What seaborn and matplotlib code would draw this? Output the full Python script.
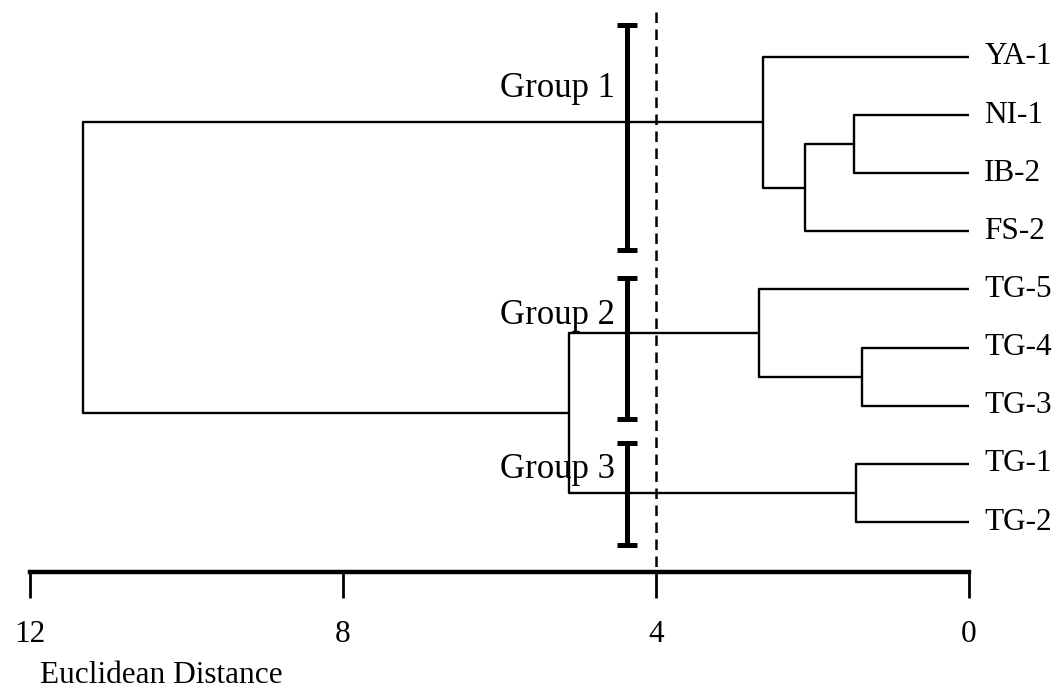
import numpy as np
import pandas as pd
import matplotlib
matplotlib.use("Agg")
import matplotlib.pyplot as plt
import seaborn as sns

# Leaves of the dendrogram, top to bottom
leaves = ["YA-1", "NI-1", "IB-2", "FS-2", "TG-5", "TG-4", "TG-3", "TG-1", "TG-2"]

# Agglomeration steps: cluster n+i joins merge_a[i] and merge_b[i] at merge_h[i]
merge_a = [1, 5, 7, 9, 0, 4, 14, 13]
merge_b = [2, 6, 8, 3, 12, 10, 11, 15]
merge_h = [1.47, 1.37, 1.44, 2.10, 2.63, 2.68, 5.11, 11.32]

# Group brackets (vertical extent in leaf units) and the cut-off distance
group_names = ["Group 1", "Group 2", "Group 3"]
group_top = [-0.55, 3.80, 6.64]
group_bottom = [3.32, 6.23, 8.40]
group_label_y = [0.69, 4.60, 7.25]
bracket_x = 4.37
cutoff = 4.0

x_ticks = [12, 8, 4, 0]
x_label = "Euclidean Distance"

# ---- build dendrogram segments ----
n = len(leaves)
pos = {i: float(i) for i in range(n)}
height = {i: 0.0 for i in range(n)}
rows = []
for k, (a, b, h) in enumerate(zip(merge_a, merge_b, merge_h)):
    cid = n + k
    ya, yb = pos[a], pos[b]
    seg = [(height[a], ya), (h, ya), (h, yb), (height[b], yb)]
    for order, (x, y) in enumerate(seg):
        rows.append({"dist": x, "leaf_pos": y, "link": cid, "order": order})
    pos[cid] = (ya + yb) / 2
    height[cid] = h
segments = pd.DataFrame(rows)

sns.set_theme(style="white")
plt.rcParams["font.family"] = ["Liberation Serif", "DejaVu Serif"]

fig = plt.figure(figsize=(10.61, 6.92), dpi=100)
ax = fig.add_axes([30 / 1061, (692 - 572) / 692, (969 - 30) / 1061, 572 / 692])

sns.lineplot(data=segments, x="dist", y="leaf_pos", units="link", estimator=None,
             sort=False, color="black", linewidth=1.7, ax=ax, legend=False)

ax.set_xlim(12, 0)
ylo, yhi = 8.86, -0.98
ax.set_ylim(ylo, yhi)

# cut-off line
ax.vlines(cutoff, -0.77, ylo, colors="black", linestyles=(0, (4.2, 2.6)), linewidth=1.8,
          clip_on=False)

# group brackets and labels
centers = [(t + b) / 2 for t, b in zip(group_top, group_bottom)]
halves = [(b - t) / 2 for t, b in zip(group_top, group_bottom)]
ax.errorbar([bracket_x] * 3, centers, yerr=halves, fmt="none", ecolor="black",
            elinewidth=3.6, capsize=7.5, capthick=3.6)
for name, gy in zip(group_names, group_label_y):
    ax.text(4.52, gy, name, ha="right", va="baseline", fontsize=25, color="black")

# leaf labels
for i, name in enumerate(leaves):
    ax.annotate(name, xy=(0, i), xytext=(11, 0), textcoords="offset points",
                ha="left", va="center", fontsize=22.5, color="black",
                annotation_clip=False)

# axis styling
for side in ["top", "left", "right"]:
    ax.spines[side].set_visible(False)
ax.spines["bottom"].set_linewidth(3.2)
ax.spines["bottom"].set_color("black")
ax.set_yticks([])
ax.set_xticks(x_ticks)
ax.set_xticklabels([str(t) for t in x_ticks])
ax.tick_params(axis="x", direction="out", length=18.7, width=2, pad=16,
               labelsize=22.5, colors="black", bottom=True)
ax.set_xlabel("")
ax.set_ylabel("")

fig.text(40 / 1061, (692 - 683) / 692, x_label, ha="left", va="baseline",
         fontsize=22.5, color="black")

fig.savefig("out.png", dpi=100, facecolor="white")
